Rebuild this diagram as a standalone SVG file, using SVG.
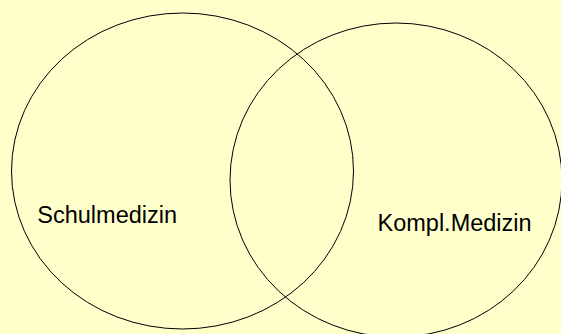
<svg xmlns="http://www.w3.org/2000/svg" width="561" height="334" viewBox="0 0 561 334">
<style>
.set{fill:none;stroke:#000;stroke-width:1}
.lbl{font-family:"Liberation Sans",Arial,sans-serif;font-size:23.5px;fill:#000}
</style>
<rect width="561" height="334" fill="#FFFFCC"/>
<g id="schulmedizin">
<ellipse class="set" cx="182.5" cy="171" rx="171" ry="158"/>
<text class="lbl" x="37.3" y="222.5">Schulmedizin</text>
</g>
<g id="komplmedizin">
<ellipse class="set" cx="396" cy="180" rx="166" ry="157"/>
<text class="lbl" x="377.5" y="231">Kompl.Medizin</text>
</g>
<g id="connectors"/>
</svg>
